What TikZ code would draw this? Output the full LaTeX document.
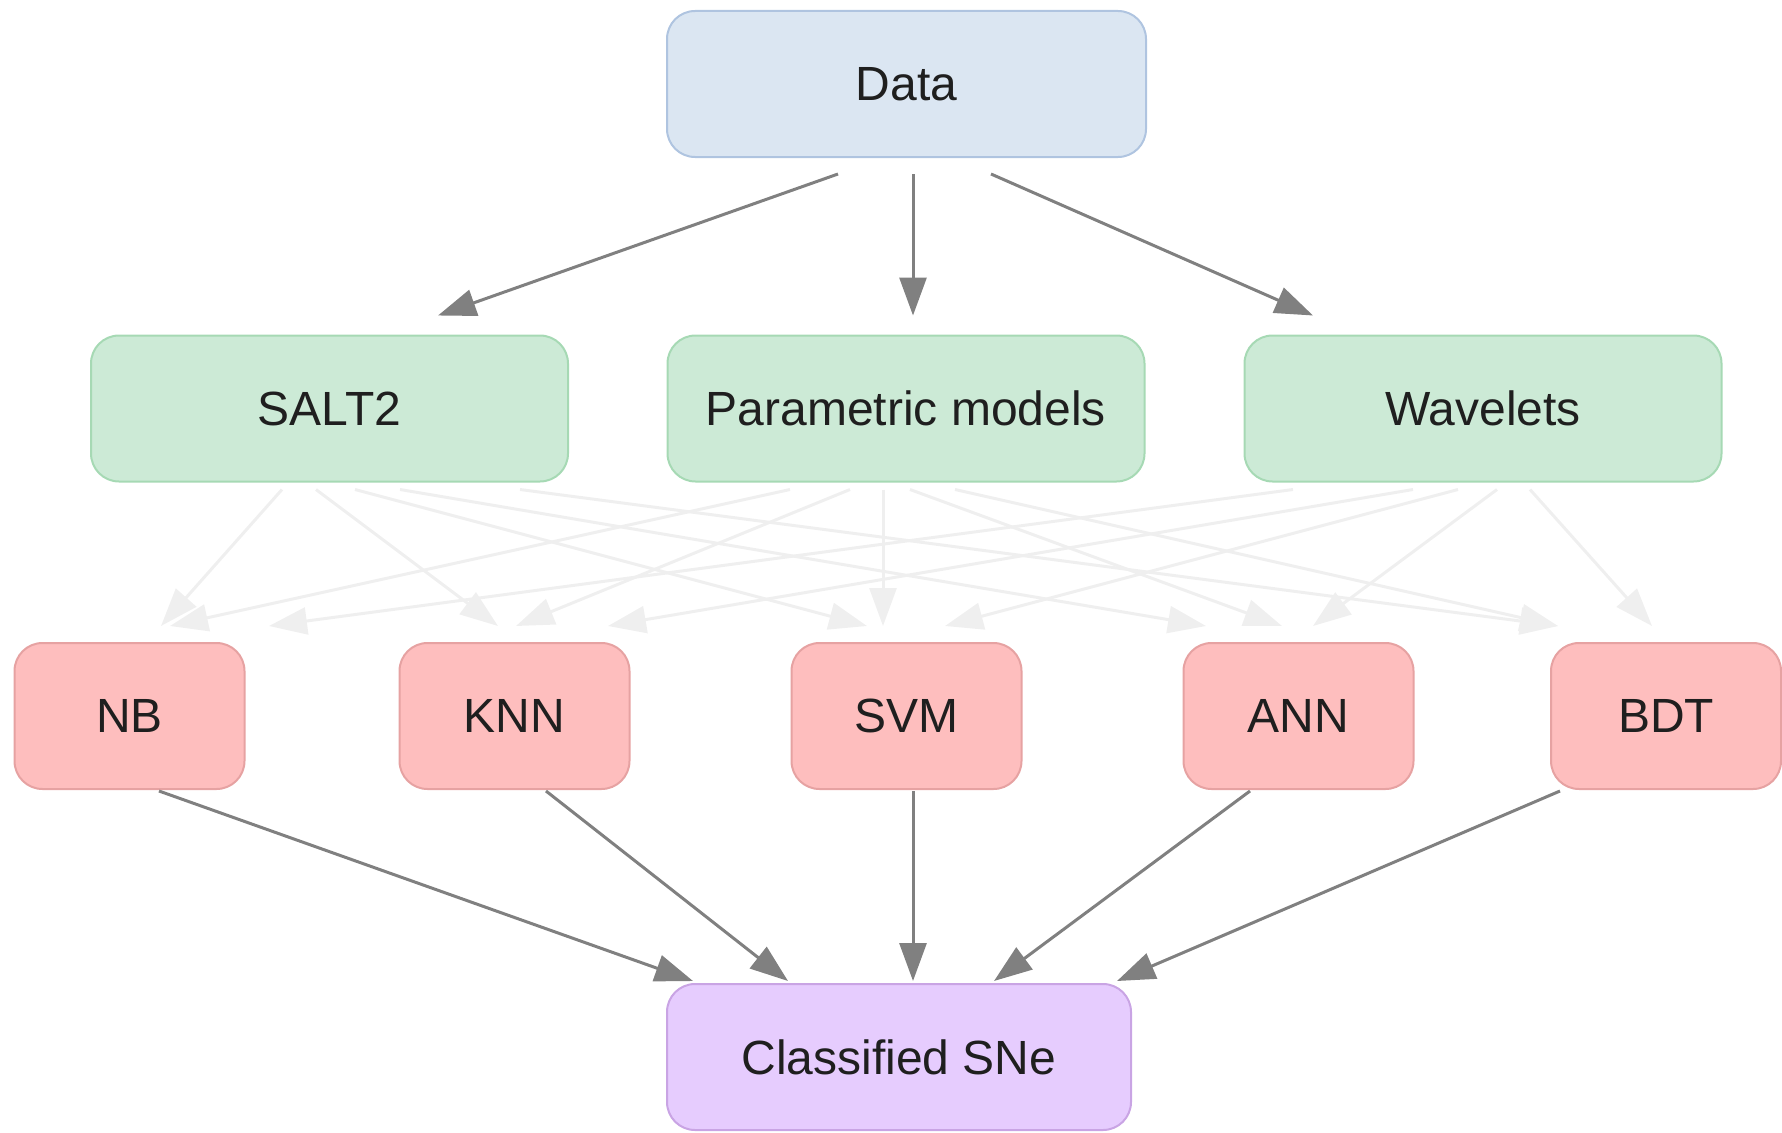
\documentclass[tikz,border=0pt]{standalone}
\usepackage{fontspec}
\setmainfont{Liberation Sans}
\usetikzlibrary{arrows.meta,calc}

\definecolor{datafill}{HTML}{DBE6F2}
\definecolor{datadraw}{HTML}{AFC4E0}
\definecolor{featfill}{HTML}{CCEAD6}
\definecolor{featdraw}{HTML}{A6D9B4}
\definecolor{clsfill}{HTML}{FEBEBE}
\definecolor{clsdraw}{HTML}{E6A2A2}
\definecolor{outfill}{HTML}{E6CCFE}
\definecolor{outdraw}{HTML}{C9A4E4}
\definecolor{arrowgray}{HTML}{808080}
\definecolor{faintgray}{HTML}{EFEFEF}

% \link{style}{source}{dx}{dy}{target}{dx}{dy}: source.south + offset -> target.north + offset
\newcommand\link[7]{\draw[#1] ($(#2.south)+(#3,#4)$) -- ($(#5.north)+(#6,#7)$);}

\begin{document}
\begin{tikzpicture}[x=1pt,y=-1pt,
  box/.style={rounded corners=28pt, line width=2pt, inner sep=0pt,
    minimum height=146pt, font=\fontsize{48}{58}\selectfont, text=black!88},
  databox/.style={box, fill=datafill, draw=datadraw, minimum width=479pt},
  featbox/.style={box, fill=featfill, draw=featdraw, minimum width=477pt},
  clsbox/.style={box, fill=clsfill, draw=clsdraw, minimum width=230pt},
  outbox/.style={box, fill=outfill, draw=outdraw, minimum width=464pt},
  arr/.style={draw=arrowgray, line width=3pt,
    -{Triangle[length=38pt,width=27pt,fill=arrowgray]}},
  faint/.style={draw=faintgray, line width=3pt,
    -{Triangle[length=38pt,width=27pt,fill=faintgray]}}]

\useasboundingbox (0,0) rectangle (1782,1132);

% nodes
\node[databox] (data)  at (906.5,84)   {Data};
\node[featbox] (salt)  at (329.5,408.5) {SALT2};
\node[featbox] (param) at (906,408.5)  {Parametric models};
\node[featbox] (wave)  at (1483,408.5) {Wavelets};
\node[clsbox]  (nb)    at (129.5,716)  {NB};
\node[clsbox]  (knn)   at (514.5,716)  {KNN};
\node[clsbox]  (svm)   at (906.5,716)  {SVM};
\node[clsbox]  (ann)   at (1298.5,716) {ANN};
\node[clsbox]  (bdt)   at (1666,716)   {BDT};
\node[outbox]  (sne)   at (899,1057)   {Classified SNe};

% faint links: every feature set to every classifier
\begin{scope}
\link{faint}{salt}{-47.5}{7}{nb}{31.5}{-16}
\link{faint}{salt}{-13.5}{7}{knn}{-16.5}{-16}
\link{faint}{salt}{25.5}{7}{svm}{-39.5}{-16}
\link{faint}{salt}{70.5}{7}{ann}{-92.5}{-16}
\link{faint}{salt}{190.5}{7}{bdt}{-108}{-16}
\link{faint}{param}{-116}{7}{nb}{40.5}{-16}
\link{faint}{param}{-56}{7}{knn}{1.5}{-16}
\link{faint}{param}{-23}{7}{svm}{-23.5}{-16}
\link{faint}{param}{4}{7}{ann}{-16.5}{-16}
\link{faint}{param}{49}{7}{bdt}{-108}{-16}
\link{faint}{wave}{-190}{7}{nb}{139.5}{-16}
\link{faint}{wave}{-70}{7}{knn}{93.5}{-16}
\link{faint}{wave}{-25}{7}{svm}{38.5}{-16}
\link{faint}{wave}{14}{7}{ann}{14.5}{-16}
\link{faint}{wave}{47}{7}{bdt}{-14}{-16}
\end{scope}

% data to feature sets
\link{arr}{data}{-68.5}{16}{salt}{108.5}{-19}
\link{arr}{data}{6.5}{16}{param}{7}{-19}
\link{arr}{data}{84.5}{16}{wave}{-170}{-19}

% classifiers to result
\link{arr}{nb}{29.5}{1}{sne}{-206}{-2}
\link{arr}{knn}{31.5}{1}{sne}{-111}{-2}
\link{arr}{svm}{6.5}{1}{sne}{14}{-2}
\link{arr}{ann}{-48.5}{1}{sne}{95}{-2}
\link{arr}{bdt}{-106}{1}{sne}{218}{-2}

\end{tikzpicture}
\end{document}
